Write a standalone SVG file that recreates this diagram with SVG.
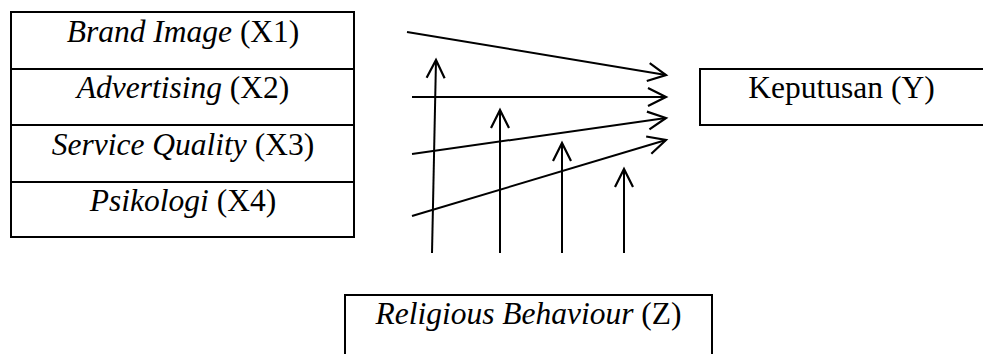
<svg xmlns="http://www.w3.org/2000/svg" width="983" height="354" viewBox="0 0 983 354">
<style>
.box{fill:#fff;stroke:#000;stroke-width:2}
.t{font-family:"Liberation Serif","Times New Roman",serif;font-size:31.5px;fill:#000;text-anchor:middle}
.i{font-style:italic}
.c{stroke:#000;stroke-width:2;fill:none;marker-end:url(#arr)}
</style>
<defs>
<marker id="arr" markerUnits="userSpaceOnUse" viewBox="-22 -12 26 24" refX="0" refY="0" markerWidth="26" markerHeight="24" orient="auto">
<path d="M-18,-9 L0,0 L-18,9" fill="none" stroke="#000" stroke-width="2.2"/>
</marker>
</defs>
<rect width="983" height="354" fill="#fff"/>
<g id="x1"><rect class="box" x="11" y="12" width="343" height="57"/><text class="t" x="183" y="42"><tspan class="i">Brand Image</tspan> (X1)</text></g>
<g id="x2"><rect class="box" x="11" y="69" width="343" height="56"/><text class="t" x="183" y="98"><tspan class="i">Advertising</tspan> (X2)</text></g>
<g id="x3"><rect class="box" x="11" y="125" width="343" height="57"/><text class="t" x="183" y="155"><tspan class="i">Service Quality</tspan> (X3)</text></g>
<g id="x4"><rect class="box" x="11" y="182" width="343" height="55"/><text class="t" x="183" y="211"><tspan class="i">Psikologi</tspan> (X4)</text></g>
<g id="y"><rect class="box" x="700" y="69" width="300" height="56"/><text class="t" x="841.5" y="98">Keputusan (Y)</text></g>
<g id="z"><rect class="box" x="345" y="295" width="367" height="80"/><text class="t" x="528.5" y="324"><tspan class="i">Religious Behaviour</tspan> (Z)</text></g>
<g id="connectors">
<line class="c" x1="407" y1="32" x2="666" y2="75"/>
<line class="c" x1="412" y1="97" x2="666" y2="97"/>
<line class="c" x1="412" y1="154" x2="666" y2="118"/>
<line class="c" x1="412" y1="216" x2="666" y2="140"/>
<line class="c" x1="432" y1="253" x2="436" y2="60"/>
<line class="c" x1="500" y1="253" x2="500" y2="110"/>
<line class="c" x1="562" y1="253" x2="562" y2="143"/>
<line class="c" x1="624" y1="253" x2="624" y2="169"/>
</g>
</svg>
